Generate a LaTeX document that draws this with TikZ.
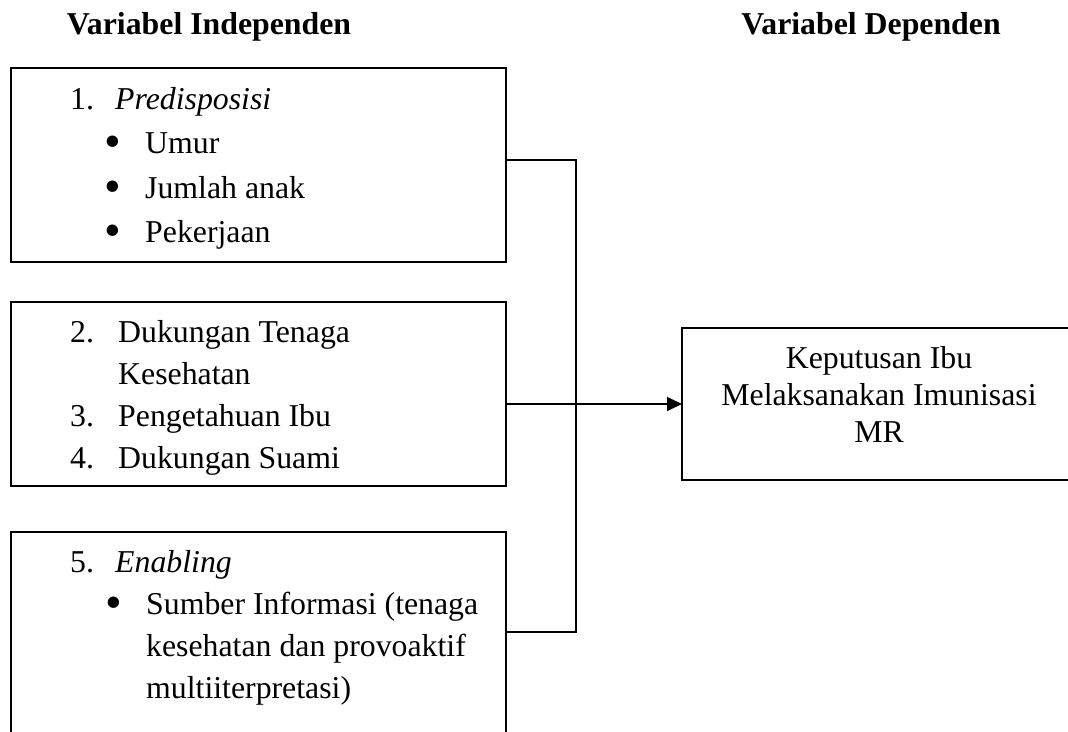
\documentclass[tikz,border=0pt]{standalone}
\usepackage{fontspec}
\setmainfont{Liberation Serif}
\usetikzlibrary{arrows.meta}
\begin{document}
\begin{tikzpicture}[x=1pt,y=-1pt,
  box/.style={draw=black, line width=1.6pt, inner sep=0pt, outer sep=0pt, anchor=north west},
  txt/.style={inner sep=0pt, anchor=base west, font=\fontsize{31.8}{38}\selectfont},
  bul/.style={inner sep=0pt, anchor=base west, font=\fontsize{31.8}{38}\selectfont},
  ctxt/.style={inner sep=0pt, anchor=base, font=\fontsize{31.8}{38}\selectfont},
  head/.style={inner sep=0pt, anchor=base, font=\fontsize{31.8}{38}\selectfont\bfseries},
  conn/.style={line width=1.6pt},
]
\newcommand{\bigbul}{\raisebox{-4.5pt}{\scalebox{1.5}{•}}}
\useasboundingbox (0,0) rectangle (1068,731);
\clip (0,0) rectangle (1068,731);

% headings
\node[head] (h1) at (209,34) {Variabel Independen};
\node[head] (h2) at (871,34) {Variabel Dependen};

% boxes
\node[box, minimum width=495pt, minimum height=194pt] (b1) at (11,68) {};
\node[box, minimum width=495pt, minimum height=184pt] (b2) at (11,302) {};
\node[box, minimum width=495pt, minimum height=240pt] (b3) at (11,532) {};
\node[box, minimum width=394pt, minimum height=152pt] (rb) at (682,328) {};

% box 1 text
\node[txt] (n1) at (70,109) {1.};
\node[txt] (p1) at (115,109) {\itshape Predisposisi};
\node[bul] (u1) at (104,153) {\bigbul};
\node[txt] (u2) at (145,153) {Umur};
\node[bul] (j1b) at (104,198) {\bigbul};
\node[txt] (j2b) at (145,198) {Jumlah anak};
\node[bul] (k1) at (104,242) {\bigbul};
\node[txt] (k2) at (145,242) {Pekerjaan};

% box 2 text
\node[txt] (n2) at (70,342) {2.};
\node[txt] (d2) at (118,342) {Dukungan Tenaga};
\node[txt] (d2b) at (118,384) {Kesehatan};
\node[txt] (n3) at (70,426) {3.};
\node[txt] (d3) at (118,426) {Pengetahuan Ibu};
\node[txt] (n4) at (70,468) {4.};
\node[txt] (d4) at (118,468) {Dukungan Suami};

% box 3 text
\node[txt] (n5) at (70,572) {5.};
\node[txt] (e5) at (115,572) {\itshape Enabling};
\node[bul] (s1) at (105,614) {\bigbul};
\node[txt] (s2) at (146,614) {Sumber Informasi (tenaga};
\node[txt] (s3) at (146,656) {kesehatan dan provoaktif};
\node[txt] (s4) at (146,698) {multiiterpretasi)};

% right box text
\node[ctxt] (r1) at (879,368) {Keputusan Ibu};
\node[ctxt] (r2) at (879,405) {Melaksanakan Imunisasi};
\node[ctxt] (r3) at (879,442) {MR};

% connectors
\coordinate (c1) at (576,160);
\coordinate (c2) at (576,632);
\draw[conn] (b1.east |- c1) -- (c1) -- (c2) -- (b3.east |- c2);
\draw[conn, -{Triangle[length=15pt,width=14pt]}] (b2.east |- rb.west) -- (rb.west);
\end{tikzpicture}
\end{document}
